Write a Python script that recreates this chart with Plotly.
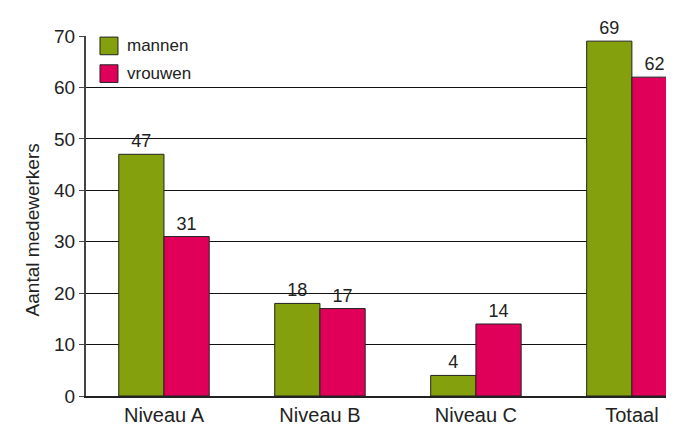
import plotly.graph_objects as go

categories = ["Niveau A", "Niveau B", "Niveau C", "Totaal"]
mannen = [47, 18, 4, 69]
vrouwen = [31, 17, 14, 62]
series_names = ["mannen", "vrouwen"]
y_ticks = [0, 10, 20, 30, 40, 50, 60, 70]
y_title = "Aantal medewerkers"

green = "#84A00C"
red = "#E0005A"
font = "Liberation Sans, Arial, sans-serif"
ink = "#222"

fig = go.Figure()
for name, vals, col in [(series_names[0], mannen, green), (series_names[1], vrouwen, red)]:
    fig.add_trace(go.Bar(x=categories, y=vals, name=name, showlegend=False,
                         marker=dict(color=col, line=dict(color=ink, width=1)),
                         text=vals, textposition="outside", textfont=dict(size=18, color=ink),
                         cliponaxis=False))

# legend drawn inside the plot area (top-left)
legend_rows = [(series_names[0], green, 0.997, 0.948), (series_names[1], red, 0.920, 0.871)]
for name, col, y1, y0 in legend_rows:
    fig.add_shape(type="rect", xref="paper", yref="paper", x0=0.0238, x1=0.0544, y0=y0, y1=y1,
                  fillcolor=col, line=dict(color=ink, width=1))
    fig.add_annotation(xref="paper", yref="paper", x=0.0663, y=(y0 + y1) / 2, text=name,
                       showarrow=False, xanchor="left", yanchor="middle",
                       font=dict(size=17, color=ink))

# y-axis title
fig.add_annotation(xref="paper", yref="paper", x=-0.0918, y=0.46, text=y_title, textangle=-90,
                   showarrow=False, xanchor="center", yanchor="middle", font=dict(size=19, color=ink))

fig.update_layout(
    width=674, height=426,
    margin=dict(l=78, r=8, t=28, b=35),
    paper_bgcolor="white", plot_bgcolor="white",
    barmode="group", bargap=0.42, bargroupgap=0,
    font=dict(family=font, size=18, color=ink),
    xaxis=dict(range=[-0.5, 3.27], showgrid=False, showline=True, linecolor=ink, linewidth=2,
               ticks="", tickfont=dict(size=20)),
    yaxis=dict(range=[0, 70], tickvals=y_ticks, showgrid=True, gridcolor="#111", gridwidth=1,
               showline=True, linecolor="#444", linewidth=2, ticks="outside", ticklen=5, tickcolor="#444",
               zeroline=False, tickfont=dict(size=19)),
)

fig.write_html("out.html")
